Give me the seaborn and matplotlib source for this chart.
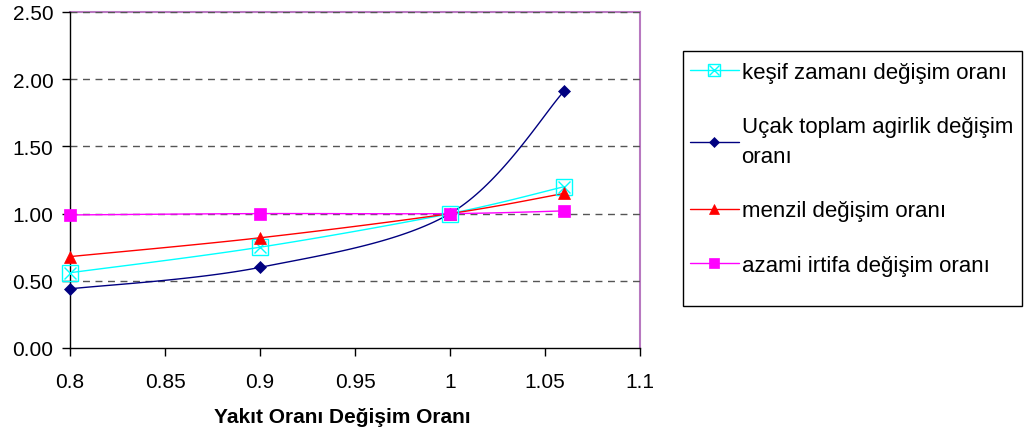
import numpy as np
import pandas as pd
import matplotlib
matplotlib.use("Agg")
import matplotlib.pyplot as plt
from matplotlib.lines import Line2D
from matplotlib.patches import Rectangle
import seaborn as sns

# Data
yakit_orani = [0.8, 0.9, 1.0, 1.06]
kesif_zamani = [0.56, 0.75, 1.00, 1.20]
ucak_agirlik = [0.44, 0.60, 1.00, 1.91]
menzil = [0.68, 0.82, 1.00, 1.15]
azami_irtifa = [0.99, 1.00, 1.00, 1.02]

series_labels = [
    "keşif zamanı değişim oranı",
    "Uçak toplam agirlik değişim\noranı",
    "menzil değişim oranı",
    "azami irtifa değişim oranı",
]
x_ticks = [0.8, 0.85, 0.9, 0.95, 1.0, 1.05, 1.1]
x_tick_labels = ["0.8", "0.85", "0.9", "0.95", "1", "1.05", "1.1"]
y_ticks = [0.0, 0.5, 1.0, 1.5, 2.0, 2.5]
x_label = "Yakıt Oranı Değişim Oranı"

sns.set_theme(style="white")
plt.rcParams["font.family"] = ["Liberation Sans", "DejaVu Sans"]
plt.rcParams["text.color"] = "black"
plt.rcParams["axes.labelcolor"] = "black"
plt.rcParams["xtick.color"] = "black"
plt.rcParams["ytick.color"] = "black"


def smooth_curve(xs, ys, steps=40):
    """Cubic Bezier smoothing through the points (spreadsheet-style smoothed line)."""
    xs = np.asarray(xs, float)
    ys = np.asarray(ys, float)
    px = np.concatenate([[xs[0]], xs, [xs[-1]]])
    py = np.concatenate([[ys[0]], ys, [ys[-1]]])
    out_x, out_y = [], []
    t = np.linspace(0, 1, steps)
    for i in range(1, len(px) - 2):
        p0 = np.array([px[i], py[i]])
        p3 = np.array([px[i + 1], py[i + 1]])
        c1 = p0 + (np.array([px[i + 1], py[i + 1]]) - np.array([px[i - 1], py[i - 1]])) / 6
        c2 = p3 - (np.array([px[i + 2], py[i + 2]]) - np.array([px[i], py[i]])) / 6
        bx = (1 - t) ** 3 * p0[0] + 3 * (1 - t) ** 2 * t * c1[0] + 3 * (1 - t) * t ** 2 * c2[0] + t ** 3 * p3[0]
        by = (1 - t) ** 3 * p0[1] + 3 * (1 - t) ** 2 * t * c1[1] + 3 * (1 - t) * t ** 2 * c2[1] + t ** 3 * p3[1]
        out_x.extend(bx)
        out_y.extend(by)
    return np.array(out_x), np.array(out_y)


W, H = 1027, 439
fig = plt.figure(figsize=(W / 100, H / 100), dpi=100)
ax = fig.add_axes([70 / W, 1 - 349 / H, 570 / W, 336 / H])

styles = [
    dict(color="#00FFFF", marker="s", mfc="none", ms=11, mew=1.0),
    dict(color="#000080", marker="D", mfc="#000080", ms=6.5, mew=0.5),
    dict(color="#FF0000", marker="^", mfc="#FF0000", ms=9, mew=0.5),
    dict(color="#FF00FF", marker="s", mfc="#FF00FF", ms=8, mew=0.5),
]
all_series = [kesif_zamani, ucak_agirlik, menzil, azami_irtifa]

# gridlines
for yv in y_ticks[1:]:
    ax.axhline(yv, color="#555555", lw=1.0, ls=(0, (5, 4)), zorder=1)

handles = []
for vals, st, lab in zip(all_series, styles, series_labels):
    sx, sy = smooth_curve(yakit_orani, vals)
    curve = pd.DataFrame({"x": sx, "y": sy})
    sns.lineplot(data=curve, x="x", y="y", ax=ax, color=st["color"], lw=1.0,
                 sort=False, estimator=None, zorder=3)
    pts = pd.DataFrame({"x": yakit_orani, "y": vals})
    ax.plot(pts["x"], pts["y"], ls="none", marker=st["marker"], ms=st["ms"],
            mfc=st["mfc"], mec=st["color"], mew=st["mew"], zorder=4, clip_on=False)
    h_main = Line2D([], [], color=st["color"], lw=1.0, marker=st["marker"],
                    ms=st["ms"] * 0.85, mfc=st["mfc"], mec=st["color"], mew=st["mew"])
    if st["mfc"] == "none":
        ax.plot(pts["x"], pts["y"], ls="none", marker="x", ms=st["ms"] * 0.8,
                mec=st["color"], mew=1.0, zorder=4, clip_on=False)
        h_x = Line2D([], [], ls="none", marker="x", ms=st["ms"] * 0.85 * 0.8,
                     mec=st["color"], mew=1.0)
        handles.append((h_main, h_x))
    else:
        handles.append(h_main)

ax.set_xlim(0.8, 1.1)
ax.set_ylim(0, 2.5)
ax.set_xticks(x_ticks)
ax.set_xticklabels(x_tick_labels)
ax.set_yticks(y_ticks)
ax.set_yticklabels([f"{v:.2f}" for v in y_ticks])
ax.set_xlabel(x_label, fontsize=15, fontweight="bold")
ax.xaxis.set_label_coords((342 - 70) / 570, (349 - 418) / 336)
ax.xaxis.label.set_va("center")
ax.set_ylabel("")
ax.tick_params(axis="both", which="major", direction="out", length=6, width=1,
               color="black", labelsize=15, pad=6, bottom=True, left=True)
ax.tick_params(axis="x", pad=11)

for side in ["left", "bottom"]:
    ax.spines[side].set_color("black")
    ax.spines[side].set_linewidth(1.0)
for side in ["top", "right"]:
    ax.spines[side].set_color("#B878C0")
    ax.spines[side].set_linewidth(1.5)
    ax.spines[side].set_zorder(0)

# legend box
fig.patches.append(Rectangle((683 / W, 1 - 307 / H), 339 / W, 255 / H,
                             transform=fig.transFigure, fill=False,
                             edgecolor="black", linewidth=1.0))
leg = fig.legend(handles, series_labels, loc="upper left",
                 bbox_to_anchor=(690 / W, 1 - 63 / H),
                 frameon=False, fontsize=16, handlelength=2.2, handletextpad=0.12,
                 labelspacing=1.5, borderpad=0.0, borderaxespad=0)
leg.get_texts()[1].set_linespacing(1.55)

fig.savefig("out.png", dpi=100)
